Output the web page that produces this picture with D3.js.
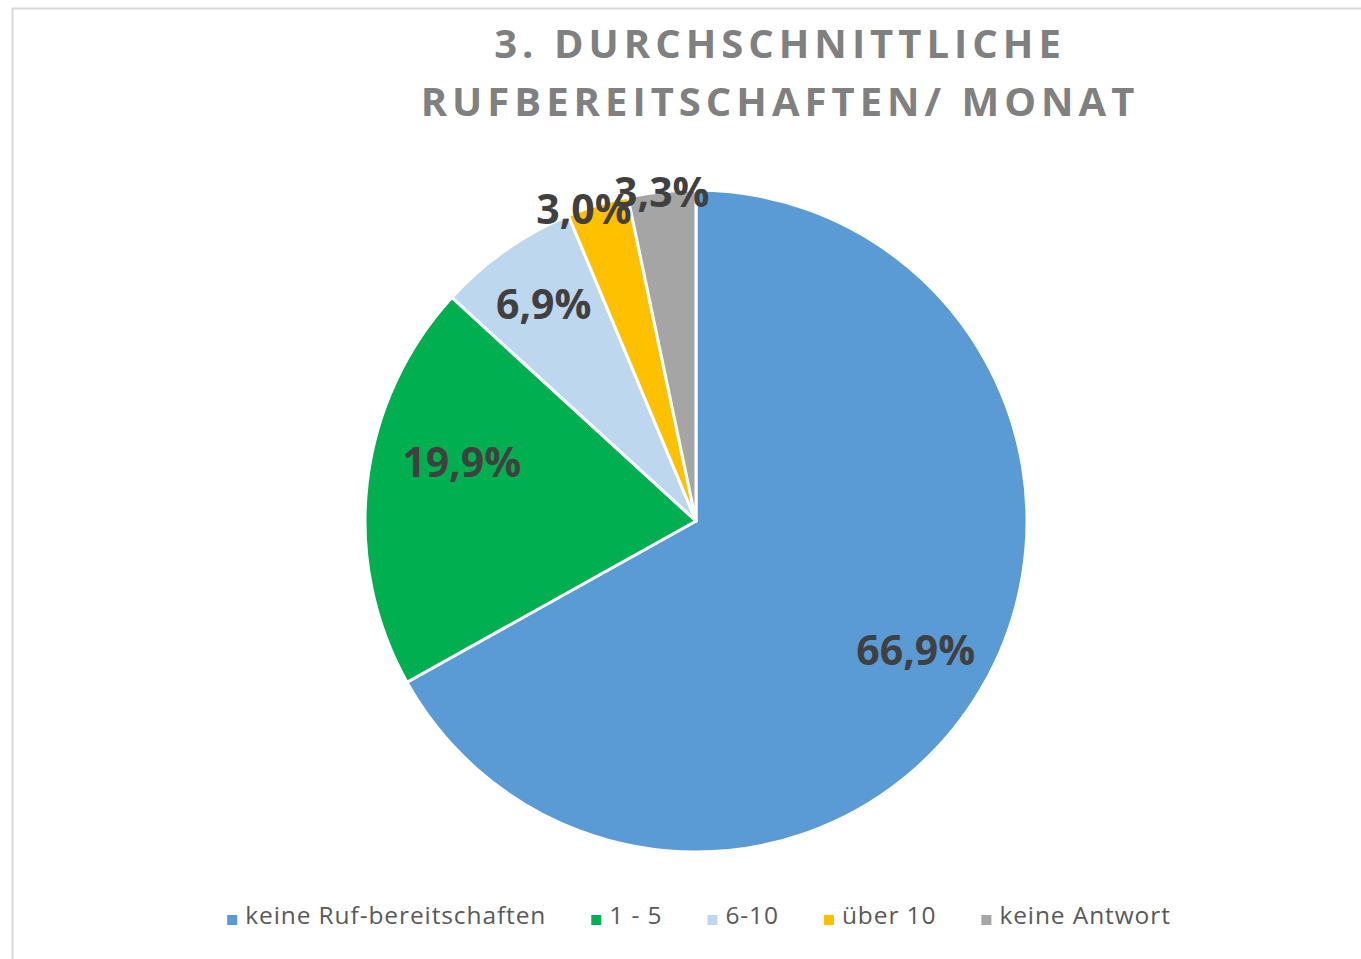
<!DOCTYPE html>
<html>
<head>
<meta charset="utf-8">
<script src="https://cdn.jsdelivr.net/npm/d3@7"></script>
<style>
  html, body { margin: 0; padding: 0; background: #fff; overflow: hidden; }
</style>
</head>
<body>
<script>
'use strict';

// chart data
const categories = ["keine Ruf-bereitschaften", "1 - 5", "6-10", "über 10", "keine Antwort"];
const values = [66.9, 19.9, 6.9, 3.0, 3.3];
const titleLines = ["3. DURCHSCHNITTLICHE", "RUFBEREITSCHAFTEN/ MONAT"];

const colors = ["#5b9bd5", "#00b050", "#bdd7ee", "#ffc000", "#a5a5a5"];

(function() {
  const width = 1361, height = 959;
  const cx = 696, cy = 521, radius = 331;

  const svg = d3.select('body')
    .append('svg')
    .attr('width', width)
    .attr('height', height);

  // chart area frame
  svg.append('rect')
    .attr('x', 12.5)
    .attr('y', 8.5)
    .attr('width', 1500)
    .attr('height', 1000)
    .attr('fill', '#fff')
    .attr('stroke', '#d9d9d9')
    .attr('stroke-width', 2);

  // title
  svg.append('text')
    .attr('text-anchor', 'middle')
    .style('font-family', '"Open Sans", sans-serif')
    .style('font-weight', 700)
    .style('font-size', '40px')
    .style('letter-spacing', '5px')
    .attr('fill', '#808080')
    .selectAll('tspan')
    .data(titleLines)
    .enter()
    .append('tspan')
    .attr('x', 780)
    .attr('y', (d, i) => 58 + i * 58)
    .text(d => d);

  // pie
  const pie = d3.pie().sort(null).value(d => d);
  const arcs = pie(values);
  const arc = d3.arc().innerRadius(0).outerRadius(radius);

  const g = svg.append('g')
    .attr('transform', 'translate(' + cx + ',' + cy + ')');

  g.selectAll('path.slice')
    .data(arcs)
    .enter()
    .append('path')
    .attr('class', 'slice')
    .attr('d', arc)
    .attr('fill', (d, i) => colors[i])
    .attr('stroke', '#fff')
    .attr('stroke-width', 3)
    .attr('stroke-linejoin', 'round');

  // data labels, placed roughly like excel "best fit"
  const deg = Math.PI / 180;
  function labelPos(d) {
    let mid = (d.startAngle + d.endAngle) / 2;
    let r;
    if (d.value < 5) {
      r = radius * 1.0;
      if (d.index === 3) mid -= 2.5 * deg; // small neighbours pushed apart
    } else if (d.value < 10) {
      r = radius * 0.8;
    } else if (d.value < 30) {
      r = radius * 0.73;
      mid += 7.5 * deg; // nudged toward top like in excel
    } else {
      r = radius * 0.77;
    }
    return [r * Math.sin(mid), -r * Math.cos(mid)];
  }

  g.selectAll('text.label')
    .data(arcs)
    .enter()
    .append('text')
    .attr('class', 'label')
    .attr('x', d => labelPos(d)[0])
    .attr('y', d => labelPos(d)[1])
    .attr('dy', '0.36em')
    .attr('text-anchor', 'middle')
    .style('font-family', '"Open Sans", sans-serif')
    .style('font-weight', 700)
    .style('font-size', '41px')
    .attr('fill', '#404040')
    .text(d => d3.format('.1f')(d.value).replace('.', ',') + '%');

  // legend
  const legend = svg.append('g');
  const items = legend.selectAll('g.item')
    .data(categories)
    .enter()
    .append('g')
    .attr('class', 'item');

  items.append('rect')
    .attr('width', 10)
    .attr('height', 10)
    .attr('y', -9)
    .attr('fill', (d, i) => colors[i]);

  items.append('text')
    .attr('x', 18)
    .style('font-family', '"Open Sans", sans-serif')
    .style('font-size', '24.5px')
    .style('letter-spacing', '0.9px')
    .attr('fill', '#595959')
    .text(d => d);

  // lay out legend items in one centered row
  const gap = 45;
  let widths = [];
  items.each(function() { widths.push(this.getBBox().width); });
  const total = d3.sum(widths) + gap * (widths.length - 1);
  let x = 699 - total / 2;
  items.attr('transform', function(d, i) {
    const t = 'translate(' + x + ',' + 924 + ')';
    x += widths[i] + gap;
    return t;
  });
})();
</script>
</body>
</html>
